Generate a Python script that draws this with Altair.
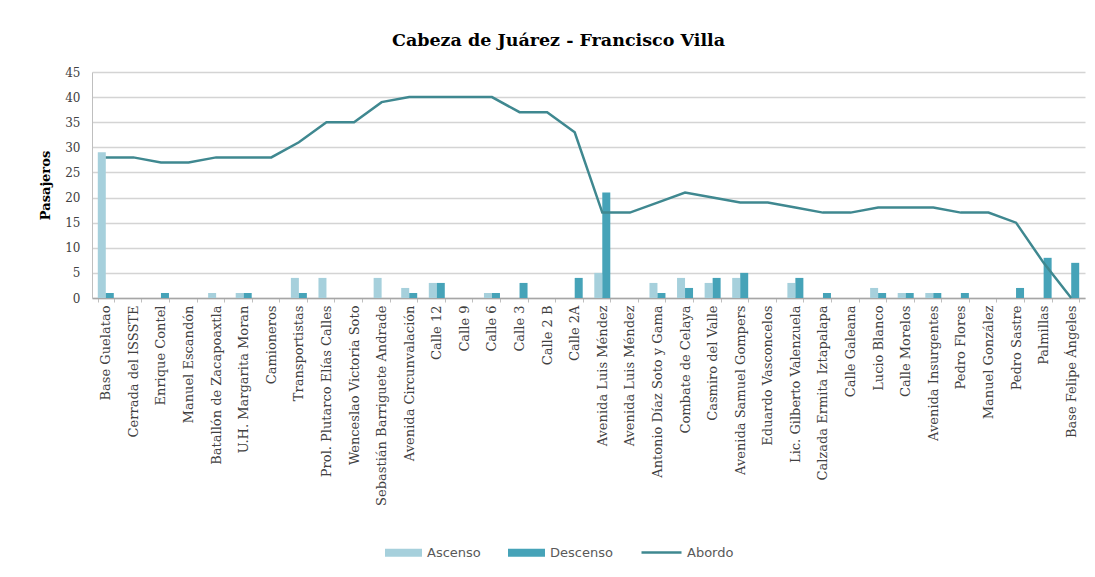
import json
import altair as alt
import pandas as pd

paradas = [
    "Base Guelatao", "Cerrada del ISSSTE", "Enrique Contel", "Manuel Escandón",
    "Batallón de Zacapoaxtla", "U.H. Margarita Moran", "Camioneros", "Transportistas",
    "Prol. Plutarco Elías Calles", "Wenceslao Victoria Soto", "Sebastián Barriguete Andrade",
    "Avenida Circunvalación", "Calle 12", "Calle 9", "Calle 6", "Calle 3", "Calle 2 B",
    "Calle 2A", "Avenida Luis Méndez", "Avenida Luis Méndez", "Antonio Díaz Soto y Gama",
    "Combate de Celaya", "Casmiro del Valle", "Avenida Samuel Gompers", "Eduardo Vasconcelos",
    "Lic. Gilberto Valenzuela", "Calzada Ermita Iztapalapa", "Calle Galeana", "Lucio Blanco",
    "Calle Morelos", "Avenida Insurgentes", "Pedro Flores", "Manuel González", "Pedro Sastre",
    "Palmillas", "Base Felipe Ángeles",
]
ascenso = [29, 0, 0, 0, 1, 1, 0, 4, 4, 0, 4, 2, 3, 0, 1, 0, 0, 0, 5, 0, 3, 4, 3, 4, 0,
           3, 0, 0, 2, 1, 1, 0, 0, 0, 0, 0]
descenso = [1, 0, 1, 0, 0, 1, 0, 1, 0, 0, 0, 1, 3, 0, 1, 3, 0, 4, 21, 0, 1, 2, 4, 5, 0,
            4, 1, 0, 1, 1, 1, 1, 0, 2, 8, 7]
abordo = [28, 28, 27, 27, 28, 28, 28, 31, 35, 35, 39, 40, 40, 40, 40, 37, 37, 33, 17, 17,
          19, 21, 20, 19, 19, 18, 17, 17, 18, 18, 18, 17, 17, 15, 7, 0]

series = ["Ascenso", "Descenso"]
colores_barras = ["#a6d0dc", "#46a3b8"]
color_linea = "#3f8890"

rows = []
for i in range(len(paradas)):
    rows.append({"idx": i, "tipo": "Ascenso", "valor": ascenso[i]})
    rows.append({"idx": i, "tipo": "Descenso", "valor": descenso[i]})
bar_df = pd.DataFrame(rows)
line_df = pd.DataFrame({"idx": list(range(len(paradas))), "valor": abordo, "serie": "Abordo"})

label_expr = json.dumps(paradas, ensure_ascii=False) + "[datum.value]"

x_enc = alt.X(
    "idx:O",
    scale=alt.Scale(paddingInner=0.42, paddingOuter=0.21),
    axis=alt.Axis(
        title=None, labelExpr=label_expr, labelAngle=270, labelAlign="right",
        labelBaseline="middle", labelFont="DejaVu Serif", labelFontSize=13,
        labelColor="#404040", labelPadding=3, tickBand="extent", tickSize=4,
        tickColor="#bfbfbf", domainColor="#a6a6a6", domainWidth=1.5, grid=False,
        labelOverlap=False, labelLimit=400,
    ),
)
y_enc = alt.Y(
    "valor:Q",
    scale=alt.Scale(domain=[0, 45], nice=False),
    axis=alt.Axis(
        title="Pasajeros", values=list(range(0, 46, 5)), ticks=False, labelPadding=12,
        labelFont="DejaVu Serif", labelFontSize=12, labelColor="#404040",
        gridColor="#d4d4d4", gridWidth=1.5, domainColor="#bfbfbf",
        titleFont="DejaVu Serif", titleFontSize=13, titleFontWeight="bold",
        titleColor="#000000", titleX=-47, titleY=113, titleAngle=270,
        titleAlign="center", titleBaseline="middle",
    ),
)

bars = alt.Chart(bar_df).mark_bar().encode(
    x=x_enc,
    xOffset=alt.XOffset("tipo:N", sort=series),
    y=y_enc,
    color=alt.Color(
        "tipo:N",
        scale=alt.Scale(domain=series, range=colores_barras),
        legend=alt.Legend(
            title=None, orient="none", legendX=302, legendY=471, direction="horizontal",
            symbolType="M-2,-0.43H2V0.43H-2Z", symbolSize=342, symbolStrokeWidth=0,
            labelOffset=14, columnPadding=27, padding=0,
            labelFont="DejaVu Sans", labelFontSize=13, labelColor="#595959",
        ),
    ),
)

line = alt.Chart(line_df).mark_line(strokeWidth=2.5).encode(
    x=x_enc,
    y=y_enc,
    stroke=alt.Stroke(
        "serie:N",
        scale=alt.Scale(domain=["Abordo"], range=[color_linea]),
        legend=alt.Legend(
            title=None, orient="none", legendX=548, legendY=459, direction="horizontal",
            symbolType="stroke", symbolSize=1600, symbolStrokeWidth=2.5,
            labelOffset=4, padding=0,
            labelFont="DejaVu Sans", labelFontSize=13, labelColor="#595959",
        ),
    ),
)

chart = (
    alt.layer(bars, line)
    .resolve_scale(color="independent")
    .properties(
        width=993,
        height=226,
        autosize=alt.AutoSizeParams(type="none"),
        padding={"left": 84, "top": 64, "right": 2, "bottom": 266},
        title=alt.TitleParams(
            "Cabeza de Juárez - Francisco  Villa", font="DejaVu Serif", fontSize=17.5,
            fontWeight="bold", color="#000000", anchor="middle", dx=-30, offset=17,
        ),
        background="#ffffff",
    )
    .configure_view(stroke=None)
)

chart.save("out.html", embed_options={"renderer": "svg", "actions": False})
